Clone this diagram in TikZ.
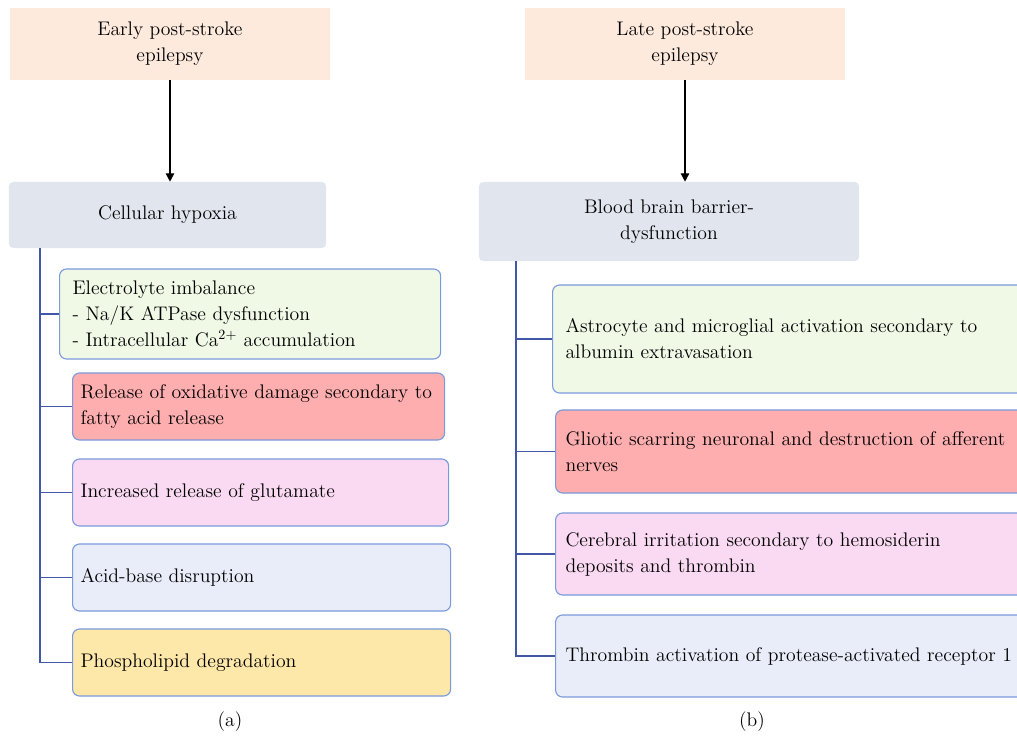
\documentclass[tikz,border=0pt]{standalone}
\usepackage{tikz}
\usetikzlibrary{arrows.meta, positioning}

\definecolor{peach}{HTML}{FDEADD}
\definecolor{headgray}{HTML}{E1E5EE}
\definecolor{boxgreen}{HTML}{F0F9E6}
\definecolor{boxred}{HTML}{FFAEB0}
\definecolor{boxpink}{HTML}{FADAF2}
\definecolor{boxlav}{HTML}{E9EDF9}
\definecolor{boxyellow}{HTML}{FDE8AA}
\definecolor{boxline}{HTML}{7A9ADB}
\definecolor{trunkblue}{HTML}{4257A8}

\tikzset{
    txt/.style={font=\fontsize{14}{18.5}\selectfont},
    topbox/.style={txt, fill=peach, align=center, inner sep=0pt},
    headbox/.style={txt, fill=headgray, rounded corners=3pt, align=center, inner sep=0pt},
    itembox/.style={txt, draw=boxline, line width=0.8pt, rounded corners=5pt,
        align=left, anchor=west, inner ysep=0pt},
    branch/.style={draw=trunkblue, line width=0.8pt},
    flow/.style={line width=1pt, -{Triangle[length=6pt, width=6pt]}}
}

\begin{document}
\begin{tikzpicture}[x=0.025cm, y=-0.025cm]

        \useasboundingbox (0,0) rectangle (1017,735);

        % (a) early
        \node[topbox, minimum width=8cm, minimum height=1.8cm] (early) at (170,44) {Early post-stroke\\epilepsy};
        \node[headbox, minimum width=7.925cm, minimum height=1.65cm] (hypox) at (167.5,215) {Cellular hypoxia};
        \draw[flow] (early.south) -- (early.south |- hypox.north);

        \node[itembox, fill=boxgreen, inner xsep=0.325cm, text width=8.875cm, minimum height=2.25cm] (elec) at (59,314)
            {Electrolyte imbalance\\- Na/K ATPase dysfunction\\- Intracellular Ca$^{2+}$ accumulation};
        \node[itembox, fill=boxred, inner xsep=0.2cm, text width=8.9cm, minimum height=1.675cm] (oxid) at (72,406.5)
            {Release of oxidative damage secondary to\\fatty acid release};
        \node[itembox, fill=boxpink, inner xsep=0.2cm, text width=9cm, minimum height=1.675cm] (gluta) at (72,492.5)
            {Increased release of glutamate};
        \node[itembox, fill=boxlav, inner xsep=0.2cm, text width=9.05cm, minimum height=1.675cm] (acid) at (72,577.5)
            {Acid-base disruption};
        \node[itembox, fill=boxyellow, inner xsep=0.2cm, text width=9.05cm, minimum height=1.675cm] (phos) at (72,662.5)
            {Phospholipid degradation};

        \coordinate (tl) at (40,0);
        \draw[branch] (hypox.south -| tl) |- (phos.west);
        \foreach \b in {elec, oxid, gluta, acid}
            \draw[branch] (\b.west) -- (\b.west -| tl);

        \node[txt] (capa) at (230,722) {(a)};

        % (b) late
        \node[topbox, minimum width=8cm, minimum height=1.8cm] (late) at (685,44) {Late post-stroke\\epilepsy};
        \node[headbox, minimum width=9.5cm, minimum height=1.975cm] (bbb) at (669,221.5) {Blood brain barrier-\\dysfunction};
        \draw[flow] (late.south) -- (late.south |- bbb.north);

        \node[itembox, fill=boxgreen, inner xsep=0.325cm, text width=11.35cm, minimum height=2.7cm] (astro) at (552,339)
            {Astrocyte and microglial activation secondary to\\albumin extravasation};
        \node[itembox, fill=boxred, inner xsep=0.25cm, text width=11.4cm, minimum height=2.075cm] (glio) at (555,451.5)
            {Gliotic scarring neuronal and destruction of afferent\\nerves};
        \node[itembox, fill=boxpink, inner xsep=0.25cm, text width=11.4cm, minimum height=2.05cm] (cereb) at (555,554)
            {Cerebral irritation secondary to hemosiderin\\deposits and thrombin};
        \node[itembox, fill=boxlav, inner xsep=0.25cm, text width=11.4cm, minimum height=2.05cm] (throm) at (555,656)
            {Thrombin activation of protease-activated receptor 1};

        \coordinate (tr) at (516,0);
        \draw[branch] (bbb.south -| tr) |- (throm.west);
        \foreach \b in {astro, glio, cereb}
            \draw[branch] (\b.west) -- (\b.west -| tr);

        \node[txt] (capb) at (752,722) {(b)};

\end{tikzpicture}
\end{document}
